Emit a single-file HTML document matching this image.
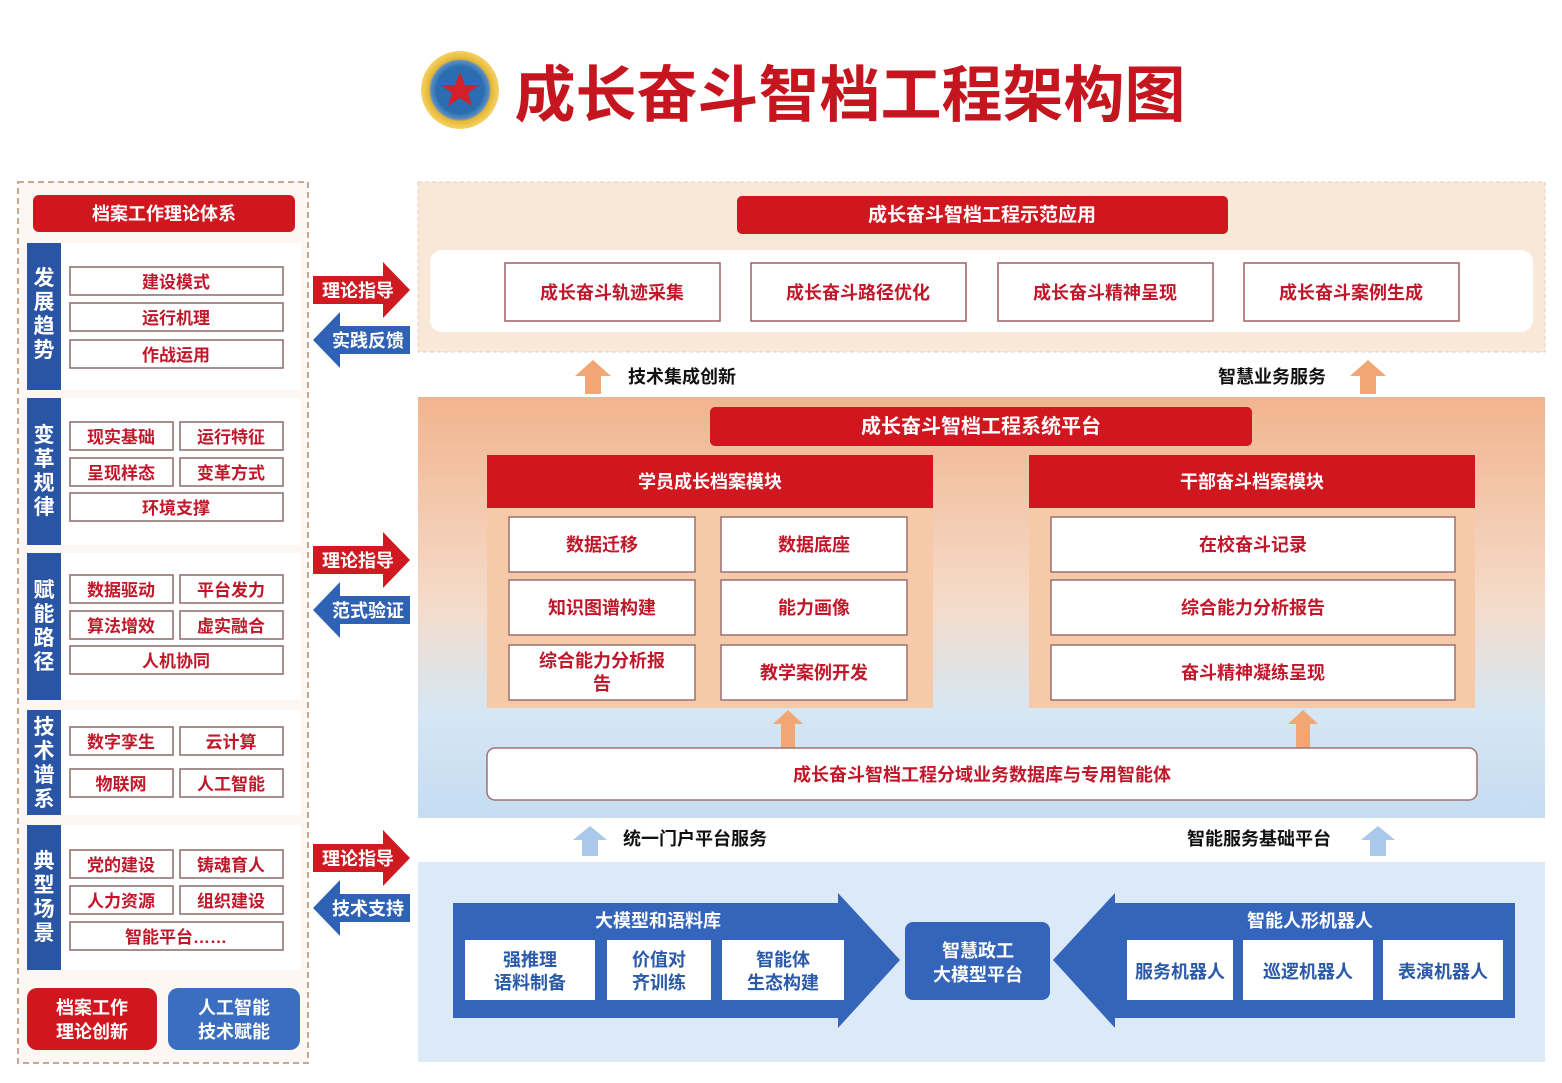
<!DOCTYPE html>
<html><head><meta charset="utf-8"><style>
html,body{margin:0;padding:0;background:#fff;width:1562px;height:1083px;overflow:hidden}
svg text{font-family:"Liberation Sans","Noto Sans CJK SC",sans-serif;font-weight:bold}
</style></head><body>
<svg width="1562" height="1083" viewBox="0 0 1562 1083" xmlns="http://www.w3.org/2000/svg">
<defs>
<linearGradient id="mid" x1="0" y1="0" x2="0" y2="1">
<stop offset="0" stop-color="#f2b48e"/><stop offset="0.5" stop-color="#f4dccb"/><stop offset="0.75" stop-color="#d6e6f4"/><stop offset="1" stop-color="#c5dcf1"/>
</linearGradient>
<radialGradient id="logo"><stop offset="0.6" stop-color="#2a6db0"/><stop offset="0.75" stop-color="#5a8fc4"/><stop offset="0.8" stop-color="#e8b630"/><stop offset="1" stop-color="#f3d36a"/></radialGradient>
</defs>
<rect width="1562" height="1083" fill="#fff"/>
<!-- Title -->
<circle cx="460" cy="90" r="39" fill="url(#logo)"/>
<polygon points="460,72 465,85 479,85 468,93 472,106 460,98 448,106 452,93 441,85 455,85" fill="#d3202a"/>
<text x="850" y="116" font-size="61" fill="#c5161f" text-anchor="middle">成长奋斗智档工程架构图</text>

<!-- Left panel -->
<rect x="18" y="182" width="290" height="881" fill="#fcf7f2" stroke="#c9a68f" stroke-width="2" stroke-dasharray="6,4"/>
<rect x="33" y="195" width="262" height="37" rx="6" fill="#d0161e"/>
<text x="164" y="220" font-size="18" fill="#fff" text-anchor="middle">档案工作理论体系</text>
<g font-size="21" fill="#fff" text-anchor="middle">
<rect x="27" y="243" width="34" height="147" fill="#2a55a4"/><rect x="61" y="243" width="240" height="147" fill="#fff"/>
<text x="44" y="285">发</text><text x="44" y="309">展</text><text x="44" y="333">趋</text><text x="44" y="357">势</text>
<rect x="27" y="398" width="34" height="147" fill="#2a55a4"/><rect x="61" y="398" width="240" height="147" fill="#fff"/>
<text x="44" y="442">变</text><text x="44" y="466">革</text><text x="44" y="490">规</text><text x="44" y="514">律</text>
<rect x="27" y="553" width="34" height="147" fill="#2a55a4"/><rect x="61" y="553" width="240" height="147" fill="#fff"/>
<text x="44" y="597">赋</text><text x="44" y="621">能</text><text x="44" y="645">路</text><text x="44" y="669">径</text>
<rect x="27" y="710" width="34" height="105" fill="#2a55a4"/><rect x="61" y="710" width="240" height="105" fill="#fff"/>
<text x="44" y="734">技</text><text x="44" y="758">术</text><text x="44" y="782">谱</text><text x="44" y="806">系</text>
<rect x="27" y="825" width="34" height="145" fill="#2a55a4"/><rect x="61" y="825" width="240" height="145" fill="#fff"/>
<text x="44" y="868">典</text><text x="44" y="892">型</text><text x="44" y="916">场</text><text x="44" y="940">景</text>
</g>
<g fill="#fff" stroke="#8a6a6a" stroke-width="1.5">
<rect x="70" y="267" width="213" height="28"/><rect x="70" y="303" width="213" height="28"/><rect x="70" y="340" width="213" height="28"/>
<rect x="70" y="422" width="103" height="28"/><rect x="180" y="422" width="103" height="28"/><rect x="70" y="458" width="103" height="28"/><rect x="180" y="458" width="103" height="28"/><rect x="70" y="493" width="213" height="28"/>
<rect x="70" y="575" width="103" height="28"/><rect x="180" y="575" width="103" height="28"/><rect x="70" y="611" width="103" height="28"/><rect x="180" y="611" width="103" height="28"/><rect x="70" y="646" width="213" height="28"/>
<rect x="70" y="727" width="103" height="28"/><rect x="180" y="727" width="103" height="28"/><rect x="70" y="769" width="103" height="28"/><rect x="180" y="769" width="103" height="28"/>
<rect x="70" y="850" width="103" height="28"/><rect x="180" y="850" width="103" height="28"/><rect x="70" y="886" width="103" height="28"/><rect x="180" y="886" width="103" height="28"/><rect x="70" y="922" width="213" height="28"/>
</g>
<g font-size="17" fill="#c0182a" text-anchor="middle">
<text x="176" y="288">建设模式</text><text x="176" y="324">运行机理</text><text x="176" y="361">作战运用</text>
<text x="121" y="443">现实基础</text><text x="231" y="443">运行特征</text><text x="121" y="479">呈现样态</text><text x="231" y="479">变革方式</text><text x="176" y="514">环境支撑</text>
<text x="121" y="596">数据驱动</text><text x="231" y="596">平台发力</text><text x="121" y="632">算法增效</text><text x="231" y="632">虚实融合</text><text x="176" y="667">人机协同</text>
<text x="121" y="748">数字孪生</text><text x="231" y="748">云计算</text><text x="121" y="790">物联网</text><text x="231" y="790">人工智能</text>
<text x="121" y="871">党的建设</text><text x="231" y="871">铸魂育人</text><text x="121" y="907">人力资源</text><text x="231" y="907">组织建设</text><text x="176" y="943">智能平台……</text>
</g>
<rect x="27" y="988" width="130" height="62" rx="10" fill="#d0161e"/>
<rect x="168" y="988" width="132" height="62" rx="10" fill="#3a6ec0"/>
<g font-size="18" fill="#fff" text-anchor="middle">
<text x="92" y="1014">档案工作</text><text x="92" y="1038">理论创新</text>
<text x="234" y="1014">人工智能</text><text x="234" y="1038">技术赋能</text>
</g>

<!-- connector arrows -->
<g>
<polygon points="313,276 383,276 383,262 410,290 383,318 383,304 313,304" fill="#cf1a22"/>
<polygon points="410,326 340,326 340,312 313,340 340,368 340,354 410,354" fill="#2f62b4"/>
<polygon points="313,546 383,546 383,532 410,560 383,588 383,574 313,574" fill="#cf1a22"/>
<polygon points="410,596 340,596 340,582 313,610 340,638 340,624 410,624" fill="#2f62b4"/>
<polygon points="313,844 383,844 383,830 410,858 383,886 383,872 313,872" fill="#cf1a22"/>
<polygon points="410,894 340,894 340,880 313,908 340,936 340,922 410,922" fill="#2f62b4"/>
</g>
<g font-size="18" fill="#fff" text-anchor="middle">
<text x="358" y="297">理论指导</text><text x="368" y="347">实践反馈</text>
<text x="358" y="567">理论指导</text><text x="368" y="617">范式验证</text>
<text x="358" y="865">理论指导</text><text x="368" y="915">技术支持</text>
</g>

<!-- Top area -->
<rect x="418" y="182" width="1127" height="170" fill="#f9e7d7" stroke="#e8cdb8" stroke-dasharray="4,3"/>
<rect x="737" y="196" width="491" height="38" rx="5" fill="#d0161e"/>
<text x="982" y="221" font-size="19" fill="#fff" text-anchor="middle">成长奋斗智档工程示范应用</text>
<rect x="430" y="250" width="1103" height="82" rx="12" fill="#fff"/>
<g fill="#fff" stroke="#a06060" stroke-width="1.5">
<rect x="505" y="263" width="215" height="58"/><rect x="751" y="263" width="215" height="58"/><rect x="998" y="263" width="215" height="58"/><rect x="1244" y="263" width="215" height="58"/>
</g>
<g font-size="18" fill="#c0182a" text-anchor="middle">
<text x="612" y="299">成长奋斗轨迹采集</text><text x="858" y="299">成长奋斗路径优化</text><text x="1105" y="299">成长奋斗精神呈现</text><text x="1351" y="299">成长奋斗案例生成</text>
</g>
<polygon points="593,360 611,376 601,376 601,394 585,394 585,376 575,376" fill="#f2a673"/>
<polygon points="1368,360 1386,376 1376,376 1376,394 1360,394 1360,376 1350,376" fill="#f2a673"/>
<g font-size="18" fill="#111" text-anchor="start">
<text x="628" y="383">技术集成创新</text><text x="1218" y="383">智慧业务服务</text>
</g>

<!-- Middle area -->
<rect x="418" y="397" width="1127" height="421" fill="url(#mid)"/>
<rect x="710" y="407" width="542" height="39" rx="5" fill="#d0161e"/>
<text x="981" y="433" font-size="20" fill="#fff" text-anchor="middle">成长奋斗智档工程系统平台</text>
<rect x="487" y="455" width="446" height="253" fill="#f6c9a9"/>
<rect x="487" y="455" width="446" height="53" fill="#d0161e"/>
<rect x="1029" y="455" width="446" height="253" fill="#f6c9a9"/>
<rect x="1029" y="455" width="446" height="53" fill="#d0161e"/>
<text x="710" y="488" font-size="18" fill="#fff" text-anchor="middle">学员成长档案模块</text>
<text x="1252" y="488" font-size="18" fill="#fff" text-anchor="middle">干部奋斗档案模块</text>
<g fill="#fff" stroke="#9a7070" stroke-width="1.5">
<rect x="509" y="517" width="186" height="55"/><rect x="721" y="517" width="186" height="55"/>
<rect x="509" y="580" width="186" height="55"/><rect x="721" y="580" width="186" height="55"/>
<rect x="509" y="645" width="186" height="55"/><rect x="721" y="645" width="186" height="55"/>
<rect x="1051" y="517" width="404" height="55"/><rect x="1051" y="580" width="404" height="55"/><rect x="1051" y="645" width="404" height="55"/>
</g>
<g font-size="18" fill="#c0182a" text-anchor="middle">
<text x="602" y="551">数据迁移</text><text x="814" y="551">数据底座</text>
<text x="602" y="614">知识图谱构建</text><text x="814" y="614">能力画像</text>
<text x="602" y="667">综合能力分析报</text><text x="602" y="690">告</text><text x="814" y="679">教学案例开发</text>
<text x="1253" y="551">在校奋斗记录</text><text x="1253" y="614">综合能力分析报告</text><text x="1253" y="679">奋斗精神凝练呈现</text>
</g>
<polygon points="788,710 803,724 795,724 795,748 781,748 781,724 773,724" fill="#f2a673"/>
<polygon points="1303,710 1318,724 1310,724 1310,748 1296,748 1296,724 1288,724" fill="#f2a673"/>
<rect x="487" y="748" width="990" height="52" rx="8" fill="#fff" stroke="#a07070" stroke-width="1.5"/>
<text x="982" y="781" font-size="18" fill="#c0182a" text-anchor="middle">成长奋斗智档工程分域业务数据库与专用智能体</text>
<polygon points="590,826 607,840 598,840 598,856 582,856 582,840 573,840" fill="#a9c8ea"/>
<polygon points="1378,826 1395,840 1386,840 1386,856 1370,856 1370,840 1361,840" fill="#a9c8ea"/>
<g font-size="18" fill="#111">
<text x="623" y="845">统一门户平台服务</text><text x="1187" y="845">智能服务基础平台</text>
</g>

<!-- Bottom area -->
<rect x="418" y="862" width="1127" height="200" fill="#dce9f6"/>
<polygon points="453,903 838,903 838,893 900,960 838,1028 838,1018 453,1018" fill="#3465ba"/>
<polygon points="1515,903 1115,903 1115,893 1053,960 1115,1028 1115,1018 1515,1018" fill="#3465ba"/>
<rect x="905" y="922" width="145" height="78" rx="8" fill="#3465ba"/>
<g font-size="18" fill="#fff" text-anchor="middle">
<text x="658" y="927">大模型和语料库</text><text x="1310" y="927">智能人形机器人</text>
<text x="978" y="957">智慧政工</text><text x="978" y="981">大模型平台</text>
</g>
<g fill="#fff">
<rect x="465" y="940" width="130" height="60"/><rect x="607" y="940" width="104" height="60"/><rect x="722" y="940" width="122" height="60"/>
<rect x="1127" y="940" width="106" height="60"/><rect x="1243" y="940" width="130" height="60"/><rect x="1383" y="940" width="120" height="60"/>
</g>
<g font-size="18" fill="#2a5aa8" text-anchor="middle">
<text x="530" y="966">强推理</text><text x="530" y="989">语料制备</text>
<text x="659" y="966">价值对</text><text x="659" y="989">齐训练</text>
<text x="783" y="966">智能体</text><text x="783" y="989">生态构建</text>
<text x="1180" y="978">服务机器人</text><text x="1308" y="978">巡逻机器人</text><text x="1443" y="978">表演机器人</text>
</g>
</svg>
</body></html>
